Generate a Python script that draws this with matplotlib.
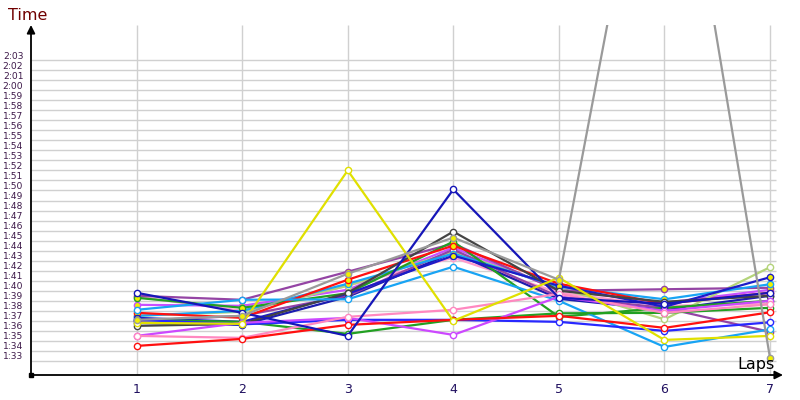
import matplotlib
matplotlib.use("Agg")
import matplotlib.pyplot as plt

# lap numbers and lap times (seconds) per driver
laps = [1, 2, 3, 4, 5, 6, 7]

s_yellow = [96.3, 96.2, 111.5, 96.5, 100.8, 94.6, 95.0]
s_darkblue = [99.3, 97.3, 95.0, 109.6, 98.8, 98.2, 99.3]
s_gray = [96.6, 97.0, 101.2, 104.8, 100.6, 156.0, 92.8]
s_black = [96.0, 96.2, 99.3, 105.4, 99.5, 98.4, 99.0]
s_red = [94.0, 94.7, 96.1, 96.6, 97.0, 95.8, 97.35]
s_red2 = [97.3, 96.8, 100.6, 104.0, 100.2, 98.2, 99.3]
s_pink = [95.0, 94.8, 96.9, 97.6, 99.2, 97.3, 98.15]
s_violet = [95.0, 96.3, 96.8, 95.1, 98.9, 97.5, 98.5]
s_green = [96.6, 96.4, 95.2, 96.6, 97.25, 97.3, 97.8]
s_green2 = [98.8, 97.8, 99.25, 104.4, 96.9, 97.8, 98.5]
s_lightblue = [97.6, 98.6, 98.65, 101.9, 98.5, 93.9, 95.65]
s_lightblue2 = [97.0, 97.5, 100.2, 103.2, 99.9, 98.65, 100.15]
s_purple = [99.0, 98.6, 101.4, 104.2, 99.5, 99.65, 99.8]
s_purple2 = [96.5, 97.0, 99.0, 103.6, 98.9, 97.8, 95.4]
s_lightgreen = [97.0, 97.4, 100.0, 103.4, 99.8, 96.65, 101.85]
s_blue = [96.6, 96.15, 96.6, 96.6, 96.4, 95.5, 96.35]
s_blue2 = [96.8, 96.4, 99.2, 103.0, 100.0, 97.9, 100.85]
s_pink2 = [98.9, 97.5, 100.0, 102.8, 99.3, 98.0, 98.2]
s_violet2 = [98.1, 98.0, 99.6, 103.8, 99.6, 98.3, 99.6]
s_darkblue2 = [96.3, 96.1, 98.9, 103.3, 98.7, 97.6, 99.0]

series = [
    (s_pink2, "#ff9ccc", "white"),
    (s_violet2, "#c850ff", "#f0f000"),
    (s_darkblue2, "#1c1cb0", "#f0f000"),
    (s_lightgreen, "#b4d47a", "white"),
    (s_purple2, "#9444a4", "white"),
    (s_purple, "#9444a4", "#f0f000"),
    (s_lightblue2, "#18a4f4", "#f0f000"),
    (s_green2, "#22a022", "#f0f000"),
    (s_red2, "#ff1010", "#f0f000"),
    (s_blue2, "#1c1cc8", "#f0f000"),
    (s_black, "#444444", "white"),
    (s_lightblue, "#18a4f4", "white"),
    (s_green, "#22a022", "white"),
    (s_blue, "#2828ff", "white"),
    (s_violet, "#cc48ff", "white"),
    (s_pink, "#ff88c0", "white"),
    (s_red, "#ff1010", "white"),
    (s_darkblue, "#1616b8", "white"),
    (s_yellow, "#e0e000", "white"),
    (s_gray, "#9a9a9a", "#f0f000"),
]

ytick_secs = list(range(93, 124))
ytick_labels = [f"{s // 60}:{s % 60:02d}" for s in ytick_secs]

fig = plt.figure(figsize=(8, 4), dpi=100)
ax = fig.add_axes([31 / 800, 25 / 400, 752 / 800, 350 / 400])
ax.set_xlim(0, 7.123)
ax.set_ylim(91.1, 126.0)

# grid: horizontal lines sit half a second below each label
for s in ytick_secs:
    ax.hlines(s - 0.5, 0, 7.06, color="#d0d0d0", lw=1, zorder=0)
ax.vlines(laps, 91.1, 126.0, color="#d0d0d0", lw=1, zorder=0)

for vals, col, face in series:
    ax.plot(laps, vals, "-o", color=col, lw=1.6, ms=4.5,
            mfc=face, mec=col, mew=1.0, zorder=2)

for sp in ax.spines.values():
    sp.set_visible(False)

ax.set_yticks(ytick_secs)
ax.set_yticklabels(ytick_labels, fontsize=6.6, color="#3c1848")
ax.set_xticks(laps)
ax.set_xticklabels([str(l) for l in laps], fontsize=9, color="#201060")
ax.tick_params(axis="both", length=0)
ax.tick_params(axis="y", pad=5.5)
ax.tick_params(axis="x", pad=6)

# axis arrows
ax.annotate("", xy=(0, 1.0), xytext=(0, 0), xycoords="axes fraction",
            arrowprops=dict(arrowstyle="-|>", color="black", lw=1.3,
                            mutation_scale=12, shrinkA=0, shrinkB=0),
            annotation_clip=False)
ax.annotate("", xy=(1.0, 0), xytext=(0, 0), xycoords="axes fraction",
            arrowprops=dict(arrowstyle="-|>", color="black", lw=1.3,
                            mutation_scale=12, shrinkA=0, shrinkB=0),
            annotation_clip=False)
ax.plot([0], [0], "s", color="black", ms=3, transform=ax.transAxes, clip_on=False)

fig.text(8 / 800, 1 - 16 / 400, "Time", fontsize=11.5, color="#700000",
         ha="left", va="center")
fig.text(775 / 800, 1 - 364 / 400, "Laps", fontsize=11.5, color="black",
         ha="right", va="center")

fig.savefig("out.png", dpi=100)
